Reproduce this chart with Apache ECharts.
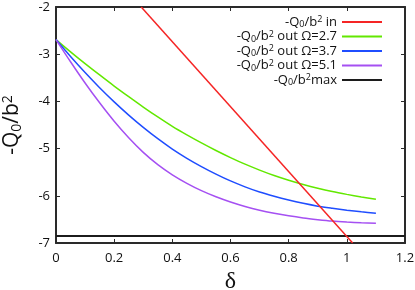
<!DOCTYPE html>
<html>
<head>
<meta charset="utf-8">
<script src="https://cdn.jsdelivr.net/npm/echarts@6/dist/echarts.min.js"></script>
<style>
html,body{margin:0;padding:0;background:#fff;}
#c{width:415px;height:290px;}
</style>
</head>
<body>
<div id="c"></div>
<script>
// ---- data ----
const xTickLabels = ['0', '0.2', '0.4', '0.6', '0.8', '1', '1.2'];
const yTickLabels = ['-7', '-6', '-5', '-4', '-3', '-2'];
const deltaOut = [0, 0.05, 0.1, 0.15, 0.2, 0.25, 0.3, 0.35, 0.4, 0.45, 0.5, 0.55, 0.6, 0.65, 0.7, 0.75, 0.8, 0.85, 0.9, 0.95, 1.0, 1.05, 1.1];
const outOmega27 = [-2.69, -2.95, -3.20, -3.44, -3.675, -3.90, -4.12, -4.33, -4.53, -4.71, -4.88, -5.04, -5.19, -5.33, -5.455, -5.57, -5.67, -5.76, -5.84, -5.91, -5.97, -6.025, -6.075];
const outOmega37 = [-2.69, -3.05, -3.39, -3.71, -4.01, -4.29, -4.55, -4.79, -5.01, -5.205, -5.38, -5.54, -5.685, -5.81, -5.92, -6.01, -6.09, -6.16, -6.22, -6.265, -6.305, -6.34, -6.37];
const outOmega51 = [-2.69, -3.16, -3.61, -4.03, -4.42, -4.77, -5.08, -5.34, -5.555, -5.735, -5.89, -6.02, -6.13, -6.225, -6.305, -6.37, -6.425, -6.47, -6.505, -6.535, -6.555, -6.57, -6.58];
const deltaIn = [0.293, 1.02];
const inValues = [-2.0, -7.0];
const maxDelta = [0, 1.2];
const maxValues = [-6.85, -6.85];
const seriesNames = ['in', 'out Ω=2.7', 'out Ω=3.7', 'out Ω=5.1', 'max'];

const FONT = 'Open Sans';
const pairs = (xs, ys) => xs.map((x, i) => [x, ys[i]]);

const rich = {
  n: {fontSize: 13, fontFamily: FONT, color: '#111', lineHeight: 14},
  sub: {fontSize: 9, fontFamily: FONT, color: '#111', lineHeight: 9, verticalAlign: 'bottom', padding: [5, 0, 0, 0]},
  sup: {fontSize: 9, fontFamily: FONT, color: '#111', lineHeight: 9, verticalAlign: 'top', padding: [0, 0, 5, 0]}
};
function legendLabel(name) {
  const suffix = name === 'max' ? '{n|max}' : '{n| ' + name + '}';
  return '{n|-Q}{sub|0}{n|/b}{sup|2}' + suffix;
}

const chart = echarts.init(document.getElementById('c'), null, {renderer: 'canvas'});
const colors = ['#f52525', '#62e800', '#1f4dff', '#a550f2', '#1c1c1c'];
const datasets = [pairs(deltaIn, inValues), pairs(deltaOut, outOmega27), pairs(deltaOut, outOmega37), pairs(deltaOut, outOmega51), pairs(maxDelta, maxValues)];

const axisCommon = {
  axisLine: {show: true, onZero: false, lineStyle: {color: '#2a2a2a', width: 2}},
  axisTick: {show: true, inside: true, length: 4, lineStyle: {color: '#2a2a2a', width: 1}},
  splitLine: {show: false}
};

chart.setOption({
  animation: false,
  backgroundColor: '#fff',
  grid: {left: 56, right: 10, top: 7, bottom: 47, containLabel: false, outerBoundsMode: 'none'},
  legend: {
    orient: 'vertical', align: 'right', right: 27, top: 10,
    itemWidth: 40, itemHeight: 12, itemGap: 0.5,
    data: seriesNames,
    formatter: legendLabel,
    itemStyle: {opacity: 0},
    textStyle: {rich: rich, fontFamily: FONT, fontSize: 13, color: '#111'}
  },
  xAxis: [
    Object.assign({}, axisCommon, {
      type: 'value', min: 0, max: 1.2, interval: 0.2,
      axisLabel: {color: '#111', fontSize: 13, fontFamily: FONT, margin: 9,
        formatter: v => xTickLabels[Math.round(v / 0.2)]},
      name: 'δ', nameLocation: 'middle', nameGap: 19,
      nameTextStyle: {fontSize: 24, fontFamily: 'Liberation Serif', color: '#111'}
    }),
    Object.assign({}, axisCommon, {
      type: 'value', min: 0, max: 1.2, interval: 0.2, position: 'top',
      axisLabel: {show: false}
    })
  ],
  yAxis: [
    Object.assign({}, axisCommon, {
      type: 'value', min: -7, max: -2, interval: 1,
      axisLabel: {color: '#111', fontSize: 13, fontFamily: FONT, margin: 6,
        formatter: v => yTickLabels[Math.round(v + 7)]},
      name: '{n|-Q}{sub|0}{n|/b}{sup|2}', nameLocation: 'middle', nameGap: 32, nameRotate: 90,
      nameTextStyle: {rich: {
        n: {fontSize: 21, fontFamily: FONT, color: '#111'},
        sub: {fontSize: 14, fontFamily: FONT, color: '#111', verticalAlign: 'bottom', padding: [9, 0, 0, 0]},
        sup: {fontSize: 14, fontFamily: FONT, color: '#111', verticalAlign: 'top', padding: [0, 0, 9, 0]}
      }}
    }),
    Object.assign({}, axisCommon, {
      type: 'value', min: -7, max: -2, interval: 1, position: 'right',
      axisLabel: {show: false}
    })
  ],
  series: seriesNames.map((name, i) => ({
    name: name,
    type: 'line',
    data: datasets[i],
    smooth: i >= 1 && i <= 3 ? 0.3 : false,
    symbol: 'none',
    clip: true,
    color: colors[i],
    lineStyle: {color: colors[i], width: i === 4 ? 2 : 1.5},
    z: i === 0 ? 3 : 2
  }))
});
</script>
</body>
</html>
